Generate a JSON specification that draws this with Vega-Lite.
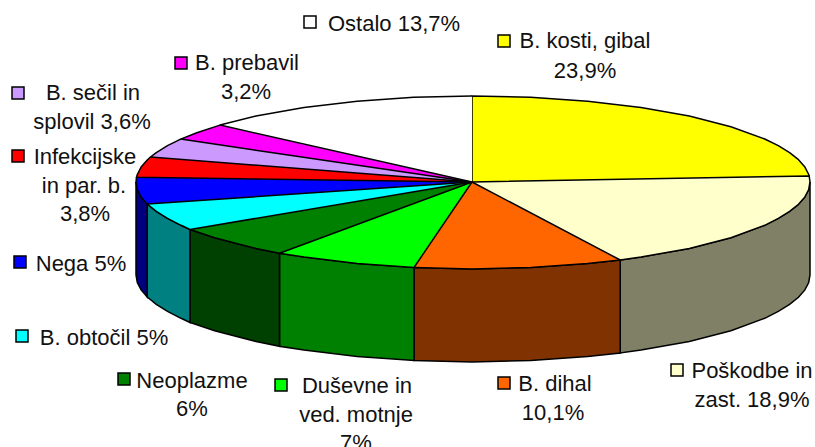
{"$schema":"https://vega.github.io/schema/vega-lite/v6.json","width":815,"height":447,"padding":0,"autosize":{"type":"none"},"background":"white","config":{"view":{"stroke":null}},
"datasets":{"pie":[
{"slice":"B. kosti, gibal","order":-1,"x":472,"y":182},{"slice":"B. kosti, gibal","order":0,"x":472,"y":96},{"slice":"B. kosti, gibal","order":10,"x":530.6,"y":97.3},{"slice":"B. kosti, gibal","order":20,"x":587.7,"y":101.2},{"slice":"B. kosti, gibal","order":30,"x":641,"y":107.5},{"slice":"B. kosti, gibal","order":40,"x":689.3,"y":116.1},{"slice":"B. kosti, gibal","order":50,"x":730.9,"y":126.7},{"slice":"B. kosti, gibal","order":60,"x":764.7,"y":139},{"slice":"B. kosti, gibal","order":65,"x":778.3,"y":145.7},{"slice":"B. kosti, gibal","order":70,"x":789.6,"y":152.6},{"slice":"B. kosti, gibal","order":75,"x":798.5,"y":159.7},{"slice":"B. kosti, gibal","order":80,"x":804.9,"y":167.1},{"slice":"B. kosti, gibal","order":85,"x":808.7,"y":174.5},{"slice":"B. kosti, gibal","order":86,"x":809.2,"y":176},
{"slice":"Poškodbe in zast.","order":-1,"x":472,"y":182},{"slice":"Poškodbe in zast.","order":86,"x":809.2,"y":176},{"slice":"Poškodbe in zast.","order":90,"x":810,"y":182,"bottom":275},{"slice":"Poškodbe in zast.","order":95,"x":808.7,"y":189.5,"bottom":282.5},{"slice":"Poškodbe in zast.","order":100,"x":804.9,"y":196.9,"bottom":289.9},{"slice":"Poškodbe in zast.","order":105,"x":798.5,"y":204.3,"bottom":297.3},{"slice":"Poškodbe in zast.","order":110,"x":789.6,"y":211.4,"bottom":304.4},{"slice":"Poškodbe in zast.","order":115,"x":778.3,"y":218.3,"bottom":311.3},{"slice":"Poškodbe in zast.","order":120,"x":764.7,"y":225.3,"bottom":318.3},{"slice":"Poškodbe in zast.","order":130,"x":730.9,"y":237.7,"bottom":330.7},{"slice":"Poškodbe in zast.","order":140,"x":689.3,"y":248.4,"bottom":341.4},{"slice":"Poškodbe in zast.","order":150,"x":641,"y":257,"bottom":350},{"slice":"Poškodbe in zast.","order":154,"x":620.2,"y":260,"bottom":353},
{"slice":"B. dihal","order":-1,"x":472,"y":182},{"slice":"B. dihal","order":154,"x":620.2,"y":260,"bottom":353},{"slice":"B. dihal","order":160,"x":587.6,"y":263.5,"bottom":356.5},{"slice":"B. dihal","order":170,"x":530.7,"y":267.5,"bottom":360.5},{"slice":"B. dihal","order":180,"x":472,"y":269,"bottom":362},{"slice":"B. dihal","order":190.4,"x":414,"y":267.5,"bottom":360.5},
{"slice":"Duševne in ved. motnje","order":-1,"x":472,"y":182},{"slice":"Duševne in ved. motnje","order":190.4,"x":414,"y":267.5,"bottom":360.5},{"slice":"Duševne in ved. motnje","order":200,"x":357.1,"y":263.5,"bottom":356.5},{"slice":"Duševne in ved. motnje","order":210,"x":304,"y":257,"bottom":350},{"slice":"Duševne in ved. motnje","order":215.6,"x":279.5,"y":253.3,"bottom":346.3},
{"slice":"Neoplazme","order":-1,"x":472,"y":182},{"slice":"Neoplazme","order":215.6,"x":279.5,"y":253.3,"bottom":346.3},{"slice":"Neoplazme","order":220,"x":256,"y":248.4,"bottom":341.4},{"slice":"Neoplazme","order":230,"x":214.6,"y":237.7,"bottom":330.7},{"slice":"Neoplazme","order":237.2,"x":190,"y":229.5,"bottom":322.5},
{"slice":"B. obtočil","order":-1,"x":472,"y":182},{"slice":"B. obtočil","order":237.2,"x":190,"y":229.5,"bottom":322.5},{"slice":"B. obtočil","order":240,"x":181,"y":225.3,"bottom":318.3},{"slice":"B. obtočil","order":245,"x":167.5,"y":218.3,"bottom":311.3},{"slice":"B. obtočil","order":250,"x":156.3,"y":211.4,"bottom":304.4},{"slice":"B. obtočil","order":255.2,"x":147.2,"y":204,"bottom":297},
{"slice":"Nega","order":-1,"x":472,"y":182},{"slice":"Nega","order":255.2,"x":147.2,"y":204,"bottom":297},{"slice":"Nega","order":260,"x":141.1,"y":196.9,"bottom":289.9},{"slice":"Nega","order":265,"x":137.3,"y":189.5,"bottom":282.5},{"slice":"Nega","order":270,"x":136,"y":182,"bottom":275},{"slice":"Nega","order":273.2,"x":136.5,"y":177.2},
{"slice":"Infekcijske in par. b.","order":-1,"x":472,"y":182},{"slice":"Infekcijske in par. b.","order":273.2,"x":136.5,"y":177.2},{"slice":"Infekcijske in par. b.","order":275,"x":137.3,"y":174.5},{"slice":"Infekcijske in par. b.","order":280,"x":141.1,"y":167.1},{"slice":"Infekcijske in par. b.","order":285,"x":147.5,"y":159.7},{"slice":"Infekcijske in par. b.","order":286.9,"x":150.5,"y":157},
{"slice":"B. sečil in splovil","order":-1,"x":472,"y":182},{"slice":"B. sečil in splovil","order":286.9,"x":150.5,"y":157},{"slice":"B. sečil in splovil","order":290,"x":156.3,"y":152.6},{"slice":"B. sečil in splovil","order":295,"x":167.5,"y":145.7},{"slice":"B. sečil in splovil","order":299.9,"x":180.7,"y":139.1},
{"slice":"B. prebavil","order":-1,"x":472,"y":182},{"slice":"B. prebavil","order":299.9,"x":180.7,"y":139.1},{"slice":"B. prebavil","order":305,"x":196.8,"y":132.7},{"slice":"B. prebavil","order":311.4,"x":220,"y":125.1},
{"slice":"Ostalo","order":-1,"x":472,"y":182},{"slice":"Ostalo","order":311.4,"x":220,"y":125.1},{"slice":"Ostalo","order":320,"x":256,"y":116.1},{"slice":"Ostalo","order":330,"x":304,"y":107.5},{"slice":"Ostalo","order":340,"x":357.1,"y":101.2},{"slice":"Ostalo","order":350,"x":413.7,"y":97.3},{"slice":"Ostalo","order":360,"x":472,"y":96}
],
"swatches":[
{"slice":"Ostalo","x":310,"y":22},{"slice":"B. kosti, gibal","x":504,"y":41},{"slice":"B. prebavil","x":181,"y":63},{"slice":"B. sečil in splovil","x":18,"y":93},{"slice":"Infekcijske in par. b.","x":18,"y":156},{"slice":"Nega","x":20,"y":262},{"slice":"B. obtočil","x":22,"y":336},{"slice":"Neoplazme","x":124,"y":379},{"slice":"Duševne in ved. motnje","x":281,"y":385},{"slice":"B. dihal","x":504,"y":383},{"slice":"Poškodbe in zast.","x":677,"y":370}
],
"labels":[
{"text":"Ostalo 13,7%","x":394,"y":24},{"text":"B. kosti, gibal","x":585,"y":41},{"text":"23,9%","x":585,"y":71},{"text":"B. prebavil","x":247,"y":63},{"text":"3,2%","x":246,"y":92},{"text":"B. sečil in","x":93,"y":93},{"text":"splovil 3,6%","x":92,"y":122},{"text":"Infekcijske","x":85,"y":157},{"text":"in par. b.","x":84,"y":186},{"text":"3,8%","x":85,"y":214},{"text":"Nega 5%","x":81,"y":264},{"text":"B. obtočil 5%","x":104,"y":338},{"text":"Neoplazme","x":192,"y":381},{"text":"6%","x":192,"y":409},{"text":"Duševne in","x":357,"y":386},{"text":"ved. motnje","x":356,"y":415},{"text":"7%","x":356,"y":443},{"text":"B. dihal","x":555,"y":384},{"text":"10,1%","x":553,"y":413},{"text":"Poškodbe in","x":752,"y":371},{"text":"zast. 18,9%","x":752,"y":400}
]},
"encoding":{"x":{"field":"x","type":"quantitative","axis":null,"scale":{"domain":[0,815],"nice":false,"zero":false}},"y":{"field":"y","type":"quantitative","axis":null,"scale":{"domain":[447,0],"nice":false,"zero":false}}},
"layer":[
{"data":{"name":"pie"},"transform":[{"filter":"datum.bottom != null"}],"mark":{"type":"area","stroke":"#000","strokeWidth":1.5,"line":false},"encoding":{"y2":{"field":"bottom"},"fill":{"field":"slice","type":"nominal","legend":null,"scale":{"domain":["Poškodbe in zast.","B. dihal","Duševne in ved. motnje","Neoplazme","B. obtočil","Nega"],"range":["#808066","#803300","#008000","#004000","#008080","#000080"]}}}},
{"data":{"name":"pie"},"mark":{"type":"line","stroke":"#000","strokeWidth":1.5,"strokeJoin":"round"},"encoding":{"order":{"field":"order","type":"quantitative"},"fill":{"field":"slice","type":"nominal","legend":null,"scale":{"domain":["B. kosti, gibal","Poškodbe in zast.","B. dihal","Duševne in ved. motnje","Neoplazme","B. obtočil","Nega","Infekcijske in par. b.","B. sečil in splovil","B. prebavil","Ostalo"],"range":["#FFFF00","#FFFFCC","#FF6600","#00FF00","#008000","#00FFFF","#0000FF","#FF0000","#CC99FF","#FF00FF","#FFFFFF"]}}}},
{"data":{"name":"swatches"},"mark":{"type":"point","shape":"square","filled":true,"size":144,"stroke":"#000","strokeWidth":1.5,"opacity":1},"encoding":{"fill":{"field":"slice","type":"nominal","legend":null,"scale":{"domain":["B. kosti, gibal","Poškodbe in zast.","B. dihal","Duševne in ved. motnje","Neoplazme","B. obtočil","Nega","Infekcijske in par. b.","B. sečil in splovil","B. prebavil","Ostalo"],"range":["#FFFF00","#FFFFCC","#FF6600","#00FF00","#008000","#00FFFF","#0000FF","#FF0000","#CC99FF","#FF00FF","#FFFFFF"]}}}},
{"data":{"name":"labels"},"mark":{"type":"text","font":"Liberation Sans","fontSize":22,"align":"center","baseline":"middle","color":"#111"},"encoding":{"text":{"field":"text","type":"nominal"}}}
],
"resolve":{"scale":{"fill":"independent"}}}
